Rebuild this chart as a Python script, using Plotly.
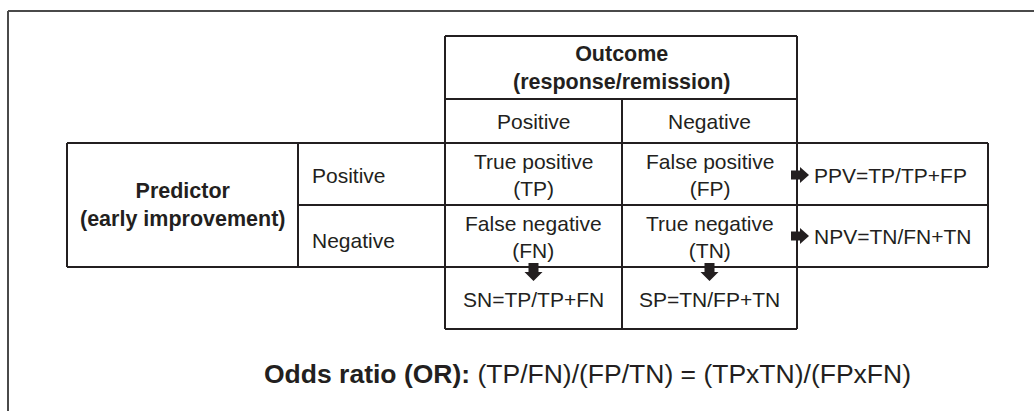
import plotly.graph_objects as go

# ---- content ----
outcome_title = "Outcome<br>(response/remission)"
outcome_levels = ["Positive", "Negative"]
predictor_title = "Predictor<br>(early improvement)"
predictor_levels = ["Positive", "Negative"]
cell_labels = [["True positive<br>(TP)", "False positive<br>(FP)"],
               ["False negative<br>(FN)", "True negative<br>(TN)"]]
row_metrics = ["PPV=TP/TP+FP", "NPV=TN/FN+TN"]
col_metrics = ["SN=TP/TP+FN", "SP=TN/FP+TN"]
odds_label = "Odds ratio (OR):"
odds_formula = "(TP/FN)/(FP/TN) = (TPxTN)/(FPxFN)"

# ---- layout geometry (pixels) ----
W, H = 1034, 411
cx = [67, 298, 445, 622, 797, 988]      # column boundaries
ry = [36, 99, 143, 205, 267, 329]       # row boundaries
INK = "#231f20"
FONT = "Liberation Sans, Arial, sans-serif"

fig = go.Figure()
shapes = []


def seg(x0, y0, x1, y1, color=INK, width=2):
    shapes.append(dict(type="line", xref="x", yref="y", x0=x0, y0=y0, x1=x1, y1=y1,
                       line=dict(color=color, width=width)))


# outer frame (top and left only)
seg(8, 11, W, 11, color="#4a4a4a", width=2)
seg(8, 11, 8, H, color="#4a4a4a", width=2)

# horizontals
seg(cx[2], ry[0], cx[4], ry[0])
seg(cx[2], ry[1], cx[4], ry[1])
seg(cx[0], ry[2], cx[5], ry[2])
seg(cx[1], ry[3], cx[5], ry[3])
seg(cx[0], ry[4], cx[5], ry[4])
seg(cx[2], ry[5], cx[4], ry[5])
# verticals
seg(cx[0], ry[2], cx[0], ry[4])
seg(cx[1], ry[2], cx[1], ry[4])
seg(cx[2], ry[0], cx[2], ry[5])
seg(cx[3], ry[1], cx[3], ry[5])
seg(cx[4], ry[0], cx[4], ry[5])
seg(cx[5], ry[2], cx[5], ry[4])


def right_arrow(xc, yc):
    x0, xm, x1 = xc - 9, xc, xc + 9
    p = (f"M{x0},{yc-4.5} L{xm},{yc-4.5} L{xm},{yc-8} L{x1},{yc} L{xm},{yc+8} "
         f"L{xm},{yc+4.5} L{x0},{yc+4.5} Z")
    shapes.append(dict(type="path", xref="x", yref="y", path=p,
                       fillcolor=INK, line=dict(color=INK, width=0)))


def down_arrow(xc, yc):
    y0, ym, y1 = yc - 9, yc, yc + 9
    p = (f"M{xc-5},{y0} L{xc+5},{y0} L{xc+5},{ym} L{xc+9},{ym} L{xc},{y1} "
         f"L{xc-9},{ym} L{xc-5},{ym} Z")
    shapes.append(dict(type="path", xref="x", yref="y", path=p,
                       fillcolor=INK, line=dict(color=INK, width=0)))


row_mid = [(ry[2] + ry[3]) / 2, (ry[3] + ry[4]) / 2]
col_mid = [(cx[2] + cx[3]) / 2, (cx[3] + cx[4]) / 2]

right_arrow(800, 175)
right_arrow(800, 236)
down_arrow(col_mid[0], 272)
down_arrow(col_mid[1], 272)

ann = []


def txt(x, y, s, size=21, anchor="center", bold=False):
    ann.append(dict(x=x, y=y, xref="x", yref="y", text=(f"<b>{s}</b>" if bold else s),
                    showarrow=False, xanchor=anchor, yanchor="middle",
                    align=anchor if anchor != "center" else "center",
                    font=dict(family=FONT, size=size, color=INK)))


txt((cx[2] + cx[4]) / 2, 68, outcome_title, size=21.5, bold=True)
for j in range(2):
    txt(col_mid[j], 121, outcome_levels[j])
txt((cx[0] + cx[1]) / 2, 205, predictor_title, size=21.5, bold=True)
for i in range(2):
    txt(310, [175, 240][i], predictor_levels[i], anchor="left")
    for j in range(2):
        txt(col_mid[j], row_mid[i] + 1, cell_labels[i][j])
    txt(812, [175, 236][i], row_metrics[i], anchor="left")
for j in range(2):
    txt(col_mid[j], 299, col_metrics[j])

txt(587.5, 374, f"<b>{odds_label}</b> {odds_formula}", size=26.5)

fig.update_layout(
    width=W, height=H, margin=dict(l=0, r=0, t=0, b=0),
    paper_bgcolor="white", plot_bgcolor="white",
    xaxis=dict(range=[0, W], visible=False, fixedrange=True),
    yaxis=dict(range=[H, 0], visible=False, fixedrange=True),
    shapes=shapes, annotations=ann, showlegend=False,
)
fig.write_html("out.html", config={"displayModeBar": False},
               post_script="document.body.style.margin='0px';document.body.style.overflow='hidden';")
